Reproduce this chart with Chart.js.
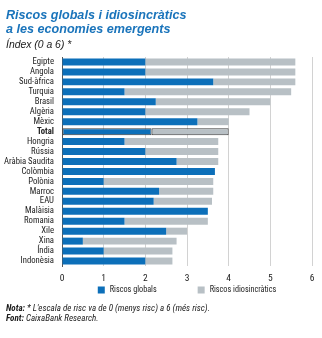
<!DOCTYPE html>
<html>
<head>
<meta charset="utf-8">
<script src="https://cdn.jsdelivr.net/npm/chart.js@4/dist/chart.umd.min.js"></script>
<style>
  html, body { margin: 0; padding: 0; background: #fff; }
  body { width: 322px; height: 338px; position: relative; overflow: hidden;
         font-family: "Liberation Sans", Arial, sans-serif; color: #1a1a1a; }
  #wrap { position: absolute; left: 0; top: 0; width: 322px; height: 338px; }
  .title { position: absolute; left: 6px; top: 8px; font-size: 12.6px; line-height: 14.3px;
           font-weight: bold; font-style: italic; color: #1a74bb; }
  .sub { position: absolute; left: 6px; top: 39px; font-size: 10.4px; line-height: 12px; font-style: italic; }
  .notes { position: absolute; left: 6px; top: 304px; font-size: 8px; line-height: 9.6px; font-style: italic; white-space: nowrap; }
  .notes b { font-weight: bold; }
</style>
</head>
<body>
<div id="wrap"><canvas id="c" width="322" height="338"></canvas></div>
<div class="title">Riscos globals i idiosincràtics<br>a les economies emergents</div>
<div class="sub">Índex (0 a 6) *</div>
<div class="notes" id="notes"><b>Nota:</b> * L'escala de risc va de 0 (menys risc) a 6 (més risc).<br><b>Font:</b> CaixaBank Research.</div>
<script>
// Countries, ordered by total risk score (highest first), with the aggregate row
const categories = ['Egipte','Angola','Sud-àfrica','Turquia','Brasil','Algèria','Mèxic','Total','Hongria','Rússia','Aràbia Saudita','Colòmbia','Polònia','Marroc','EAU','Malàisia','Romania','Xile','Xina','Índia','Indonèsia'];
// Global risk component
const globalRisk = [2.0,2.0,3.63,1.5,2.25,2.0,3.25,2.15,1.5,2.0,2.75,3.67,1.0,2.33,2.2,3.5,1.5,2.5,0.5,1.0,2.0];
// Idiosyncratic risk component (stacked after the global one)
const idioRisk = [3.6,3.6,1.97,4.0,2.75,2.5,0.75,1.85,2.25,1.75,1.0,0,2.63,1.3,1.4,0,2.0,0.5,2.25,1.65,0.65];
const seriesNames = ['Riscos globals','Riscos idiosincràtics'];
const xTicks = [0,1,2,3,4,5,6];

const BLUE = '#0c6fb9';
const GREY = '#b8c0c5';
const TOTAL_ROW = categories.indexOf('Total');

// Pick a narrow sans face when one is installed, else the regular one
const measurer = document.createElement('canvas').getContext('2d');
function installed(name) {
  const probe = 'Aràbia Saudita mmmwwiil 0123';
  return ['monospace', 'serif'].every(fb => {
    measurer.font = '20px ' + fb; const a = measurer.measureText(probe).width;
    measurer.font = '20px "' + name + '", ' + fb; const b = measurer.measureText(probe).width;
    return a !== b;
  });
}
const narrowName = ['Liberation Sans Narrow', 'Roboto Condensed', 'DejaVu Sans Condensed', 'Open Sans Condensed'].find(installed);
const FONT = (narrowName ? '"' + narrowName + '", ' : '') + '"Liberation Sans", Arial, sans-serif';

// Font size that makes a text run a given width
function sizeForWidth(text, width, style) {
  measurer.font = (style || '') + ' 10px ' + FONT;
  return 10 * width / measurer.measureText(text).width;
}
const labelSize = Math.min(10, sizeForWidth('Aràbia Saudita', 50));
const legendSize = Math.min(10, sizeForWidth('Riscos globals', 47));
const notes = document.getElementById('notes');
notes.style.fontFamily = FONT;
notes.style.fontSize = sizeForWidth("Nota: * L'escala de risc va de 0 (menys risc) a 6 (més risc).", 204, 'italic') + 'px';

Chart.defaults.font.family = FONT;
Chart.defaults.color = '#222';

// Legend drawn below the x axis, centred under the plot area
const bottomLegend = {
  id: 'bottomLegend',
  afterDraw(chart) {
    const ctx = chart.ctx, area = chart.chartArea;
    const box = 7, gapText = 5, gapItems = 41, y = 290;
    ctx.save();
    ctx.font = legendSize + 'px ' + FONT;
    ctx.textBaseline = 'middle';
    const items = chart.data.datasets.map(d => ({ label: d.label, color: d.backgroundColor, w: box + gapText + ctx.measureText(d.label).width }));
    const total = items.reduce((s, it) => s + it.w, 0) + gapItems * (items.length - 1);
    let x = (area.left + area.right) / 2 - total / 2;
    items.forEach(it => {
      ctx.fillStyle = it.color;
      ctx.fillRect(x, y - box / 2, box, box);
      ctx.fillStyle = '#222';
      ctx.fillText(it.label, x + box + gapText, y);
      x += it.w + gapItems;
    });
    ctx.restore();
  }
};

new Chart(document.getElementById('c'), {
  type: 'bar',
  data: {
    labels: categories,
    datasets: [
      { label: seriesNames[0], data: globalRisk, backgroundColor: BLUE,
        borderColor: '#3b3b3b', borderWidth: c => c.dataIndex === TOTAL_ROW ? 1 : 0, borderSkipped: false },
      { label: seriesNames[1], data: idioRisk, backgroundColor: GREY,
        borderColor: '#3b3b3b', borderWidth: c => c.dataIndex === TOTAL_ROW ? 1 : 0, borderSkipped: false }
    ]
  },
  options: {
    indexAxis: 'y',
    responsive: false,
    animation: false,
    devicePixelRatio: 1,
    layout: { padding: { top: 57, right: 10, bottom: 52, left: 0 } },
    datasets: { bar: { categoryPercentage: 1, barPercentage: 0.7 } },
    plugins: { legend: { display: false }, tooltip: { enabled: false } },
    scales: {
      x: {
        stacked: true, min: 0, max: 6,
        afterBuildTicks: s => { s.ticks = xTicks.map(v => ({ value: v })); },
        afterFit: s => { s.height = 20; },
        grid: { color: c => c.tick && c.tick.value === 0 ? 'rgba(0,0,0,0)' : '#d2d2d2', lineWidth: 1, drawTicks: false },
        border: { display: false },
        ticks: { padding: 7, font: { size: 9.5 }, color: '#222' }
      },
      y: {
        stacked: true,
        afterFit: s => { s.width = 62; },
        grid: { display: false, drawTicks: false },
        border: { display: true, color: '#555', width: 1 },
        ticks: {
          padding: 8, autoSkip: false, color: '#222',
          font: c => ({ size: labelSize, weight: c.index === TOTAL_ROW ? 'bold' : 'normal' })
        }
      }
    }
  },
  plugins: [bottomLegend]
});
</script>
</body>
</html>
